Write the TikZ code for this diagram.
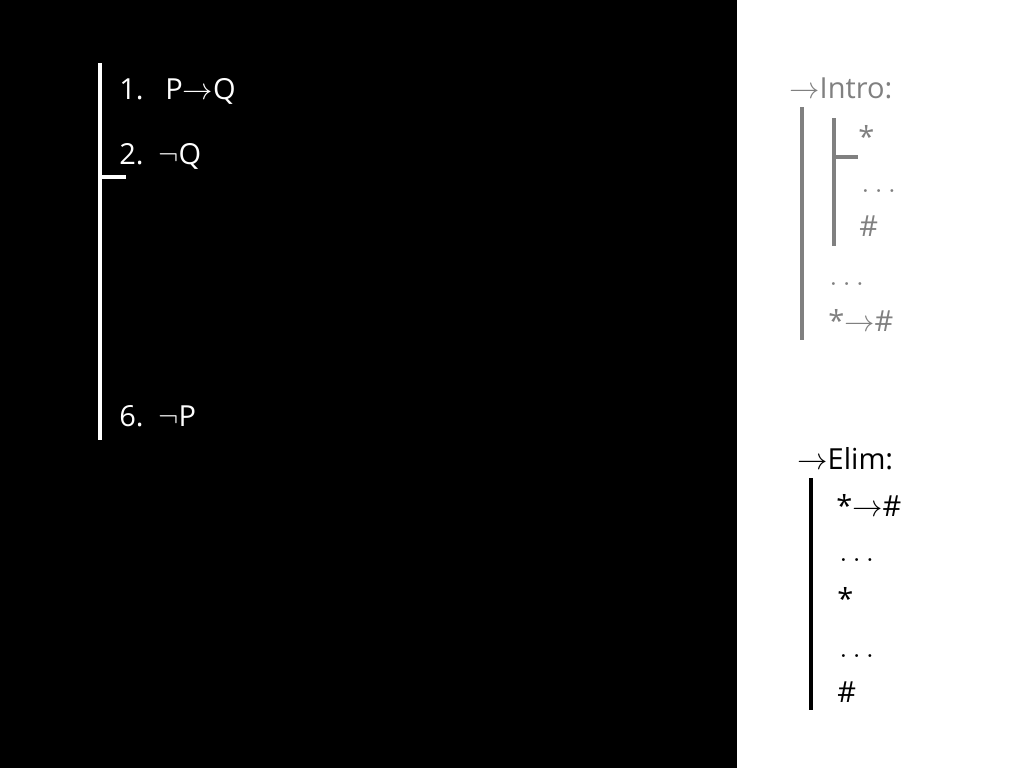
\documentclass[tikz,border=0pt]{standalone}
\usepackage{fontspec}
\setmainfont{Open Sans}
\usetikzlibrary{positioning}
\definecolor{introgray}{HTML}{808080}
\begin{document}
\begin{tikzpicture}[x=0.02cm,y=-0.02cm,
    txt/.style={anchor=base west,inner sep=0pt,font=\fontsize{16.5}{19}\selectfont},
    bar/.style={line width=2.8pt}]
    % background
    \useasboundingbox (0,0) rectangle (1024,768);
    \fill[black] (0,0) rectangle (737,768);
    % proof on the left
    \coordinate (pt) at (100,63);
    \coordinate (pb) at (100,440);
    \coordinate (ph) at (126,177);
    \draw[bar,white] (pt) -- (pb);
    \draw[bar,white] (pt |- ph) -- (ph);
    \node[txt,white] (n1) at (119,99) {1.};
    \node[txt,white] (f1) at (165,99) {P$\rightarrow$Q};
    \node[txt,white] (n2) at (119,164) {2.};
    \node[txt,white] (f2) at (158,164) {$\neg$Q};
    \node[txt,white] (n6) at (119,426) {6.};
    \node[txt,white] (f6) at (158,426) {$\neg$P};
    % arrow introduction
    \node[txt,introgray] (intro) at (789,98) {$\rightarrow$Intro:};
    \coordinate (it) at (802,107);
    \coordinate (ib) at (802,340);
    \coordinate (st) at (834,118);
    \coordinate (sb) at (834,246);
    \coordinate (sh) at (858,157);
    \draw[bar,introgray] (it) -- (ib);
    \draw[bar,introgray] (st) -- (sb);
    \draw[bar,introgray] (st |- sh) -- (sh);
    \node[txt,introgray] (ia) at (858,147) {*};
    \node[txt,introgray] (id1) at (861,192) {$\ldots$};
    \node[txt,introgray] (ib1) at (859,236) {\#};
    \node[txt,introgray] (id2) at (829,285) {$\ldots$};
    \node[txt,introgray] (ic) at (828,331) {*$\rightarrow$\#};
    % arrow elimination
    \node[txt,black] (elim) at (797,469) {$\rightarrow$Elim:};
    \coordinate (et) at (811,478);
    \coordinate (eb) at (811,710);
    \draw[bar,black] (et) -- (eb);
    \node[txt,black] (ea) at (836,516) {*$\rightarrow$\#};
    \node[txt,black] (ed1) at (839,561) {$\ldots$};
    \node[txt,black] (eb1) at (837,609) {*};
    \node[txt,black] (ed2) at (839,657) {$\ldots$};
    \node[txt,black] (ec) at (837,702) {\#};
\end{tikzpicture}
\end{document}
